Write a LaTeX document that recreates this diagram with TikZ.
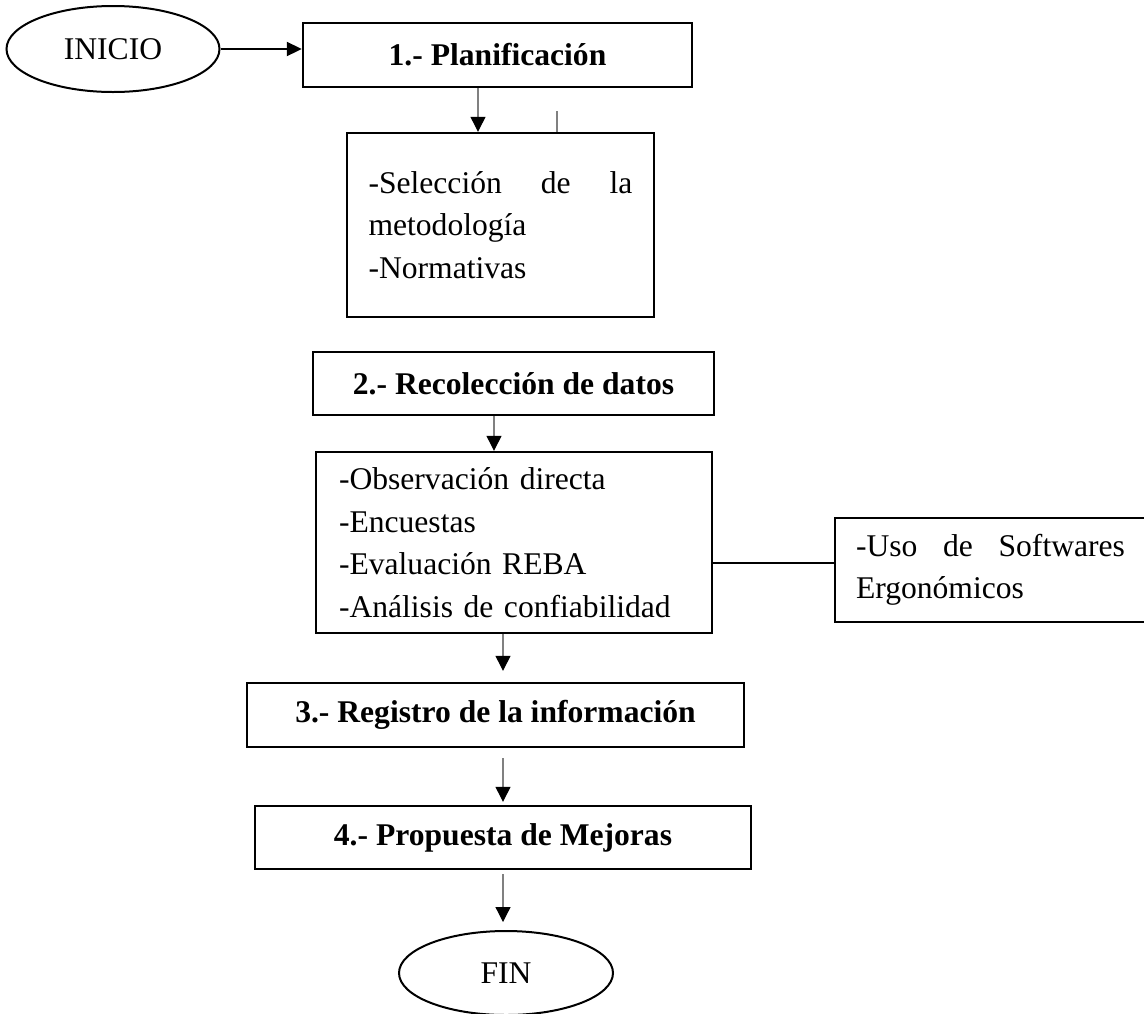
\documentclass[tikz,border=0pt]{standalone}
\usepackage{fontspec}
\setmainfont{Liberation Serif}
\usetikzlibrary{shapes.geometric,arrows.meta}
\hyphenpenalty=10000
\tolerance=10000
\newcommand{\tamano}{\fontsize{15.8}{21.25}\selectfont}

\tikzset{
  paso/.style={draw,rectangle,line width=1.2pt,inner sep=0pt,font=\tamano\bfseries},
  caja/.style={draw,rectangle,line width=1.2pt,inner sep=0pt,font=\tamano},
  limite/.style={draw,ellipse,line width=1pt,inner sep=0pt,font=\tamano},
  flecha/.style={draw=gray,line width=0.6pt,-{Triangle[width=7.5pt,length=7.5pt,color=black]}},
  flechanegra/.style={line width=1pt,-{Triangle[width=7pt,length=7.5pt]}},
}

\begin{document}
\begin{tikzpicture}[x=0.5pt,y=-0.5pt]
    \useasboundingbox (0,0) rectangle (1144,1013);

    % Inicio y fases
    \node[limite,minimum width=106.5pt,minimum height=43pt] (inicio) at (113,49) {INICIO};
    \node[paso,minimum width=194.5pt,minimum height=32pt] (plan) at (497.5,55) {1.- Planificación};
    \node[caja,minimum width=153.5pt,minimum height=92pt,text width=132pt,align=justify] (det) at (500.5,225)
        {-Selección de la metodología\\-Normativas};
    \node[paso,minimum width=200.5pt,minimum height=31.5pt] (rec) at (513.5,383.5) {2.- Recolección de datos};
    \node[caja,minimum width=198pt,minimum height=90.5pt,text width=175pt,align=left] (dat) at (514,542.5)
        {-Observación directa\\-Encuestas\\-Evaluación REBA\\-Análisis de confiabilidad};
    \node[caja,minimum width=155.5pt,minimum height=52pt,text width=134.5pt,align=justify] (soft) at (990.5,570)
        {-Uso de Softwares Ergonómicos};
    \node[paso,minimum width=248.5pt,minimum height=32pt] (reg) at (495.5,715) {3.- Registro de la información};
    \node[paso,minimum width=248pt,minimum height=31.5pt] (prop) at (503,837.5) {4.- Propuesta de Mejoras};
    \node[limite,minimum width=107pt,minimum height=42pt] (fin) at (506,973) {FIN};

    % Conectores
    \draw[flechanegra] (inicio.east) -- (inicio.east -| plan.west);
    \draw[flecha] ([xshift=-9.75pt]plan.south) -- ([xshift=-9.75pt]plan.south |- det.north);
    \coordinate (marca) at ([xshift=28.25pt]det.north);
    \draw[gray,line width=0.6pt] (marca) -- ++(0,-21);
    \draw[flecha] ([xshift=-9.75pt]rec.south) -- ([xshift=-9.75pt]rec.south |- dat.north);
    \draw[line width=1pt] ([yshift=-10.25pt]dat.east) -- ([yshift=-10.25pt]dat.east -| soft.west);
    \draw[flecha,shorten >=5.5pt] ([xshift=-5.5pt]dat.south) -- ([xshift=-5.5pt]dat.south |- reg.north);
    \draw[flecha,shorten <=5pt,shorten >=1.5pt] ([xshift=3.75pt]reg.south) -- ([xshift=3.75pt]reg.south |- prop.north);
    \draw[flecha,shorten <=2pt,shorten >=4pt] (prop.south) -- (prop.south |- fin.north);
\end{tikzpicture}
\end{document}
